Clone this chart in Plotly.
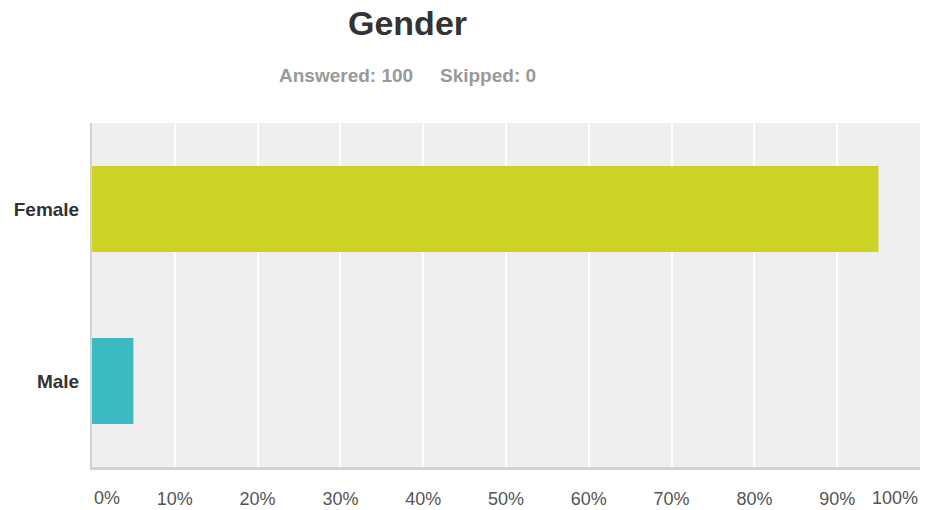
import plotly.graph_objects as go

# data
categories = ["Female", "Male"]
percent = [95, 5]
bar_colors = ["#cdd325", "#3cbac1"]
answered = 100
skipped = 0
tick_vals = list(range(10, 100, 10))
tick_text = [f"{v}%" for v in tick_vals]

# the page body adds an 8px margin, so the figure is drawn 8px smaller
OFF = 8
W, H = 929 - OFF, 510 - OFF
L, R, T, B = 92 - OFF, 9, 123 - OFF, 43

fig = go.Figure()
fig.add_trace(go.Bar(
    y=categories, x=percent, orientation="h",
    marker=dict(color=bar_colors, line=dict(width=0)),
    hoverinfo="x+y",
))

font_family = "Liberation Sans, Arial, Helvetica, sans-serif"

fig.update_layout(
    width=W, height=H,
    margin=dict(l=L, r=R, t=T, b=B, autoexpand=False),
    paper_bgcolor="white",
    plot_bgcolor="#efefef",
    bargap=0.5,
    showlegend=False,
    font=dict(family=font_family, color="#555"),
)
fig.update_xaxes(
    range=[0, 100], tickvals=tick_vals, ticktext=tick_text,
    showgrid=True, gridcolor="white", gridwidth=1.5,
    zeroline=False, showline=True, linecolor="#d2d2d2", linewidth=3,
    ticks="outside", ticklen=13, tickcolor="rgba(0,0,0,0)",
    tickfont=dict(size=18, color="#555"),
    automargin=False, fixedrange=True,
)
fig.update_yaxes(
    autorange="reversed", showgrid=False, zeroline=False,
    showline=True, linecolor="#d2d2d2", linewidth=2,
    ticks="outside", ticklen=7, tickcolor="rgba(0,0,0,0)",
    tickfont=dict(size=19, color="#333", weight="bold"),
    automargin=False, fixedrange=True,
)


def px_x(xpix):
    # page pixel -> paper fraction of the plot area
    return (xpix - OFF - L) / (W - L - R)


# end labels of the x axis sit inside the plot edges
fig.add_annotation(x=0, y=0, xref="x", yref="paper", yanchor="middle", yshift=-31,
                   text="0%", showarrow=False, xanchor="left",
                   font=dict(size=18, color="#555"))
fig.add_annotation(x=100, y=0, xref="x", yref="paper", yanchor="middle", yshift=-31,
                   text="100%", showarrow=False, xanchor="right",
                   font=dict(size=18, color="#555"))

# title and response counts
fig.add_annotation(x=px_x(407), y=1, xref="paper", yref="paper", xanchor="center",
                   yanchor="middle", yshift=(123 - 23), text="<b>Gender</b>",
                   showarrow=False, font=dict(size=34, color="#333"))
fig.add_annotation(x=px_x(415), y=1, xref="paper", yref="paper", yanchor="middle",
                   xanchor="right", yshift=(123 - 75), text=f"<b>Answered: {answered}</b>",
                   showarrow=False, font=dict(size=19, color="#999"))
fig.add_annotation(x=px_x(438), y=1, xref="paper", yref="paper", yanchor="middle",
                   xanchor="left", yshift=(123 - 75), text=f"<b>Skipped: {skipped}</b>",
                   showarrow=False, font=dict(size=19, color="#999"))

fig.write_html("out.html")
